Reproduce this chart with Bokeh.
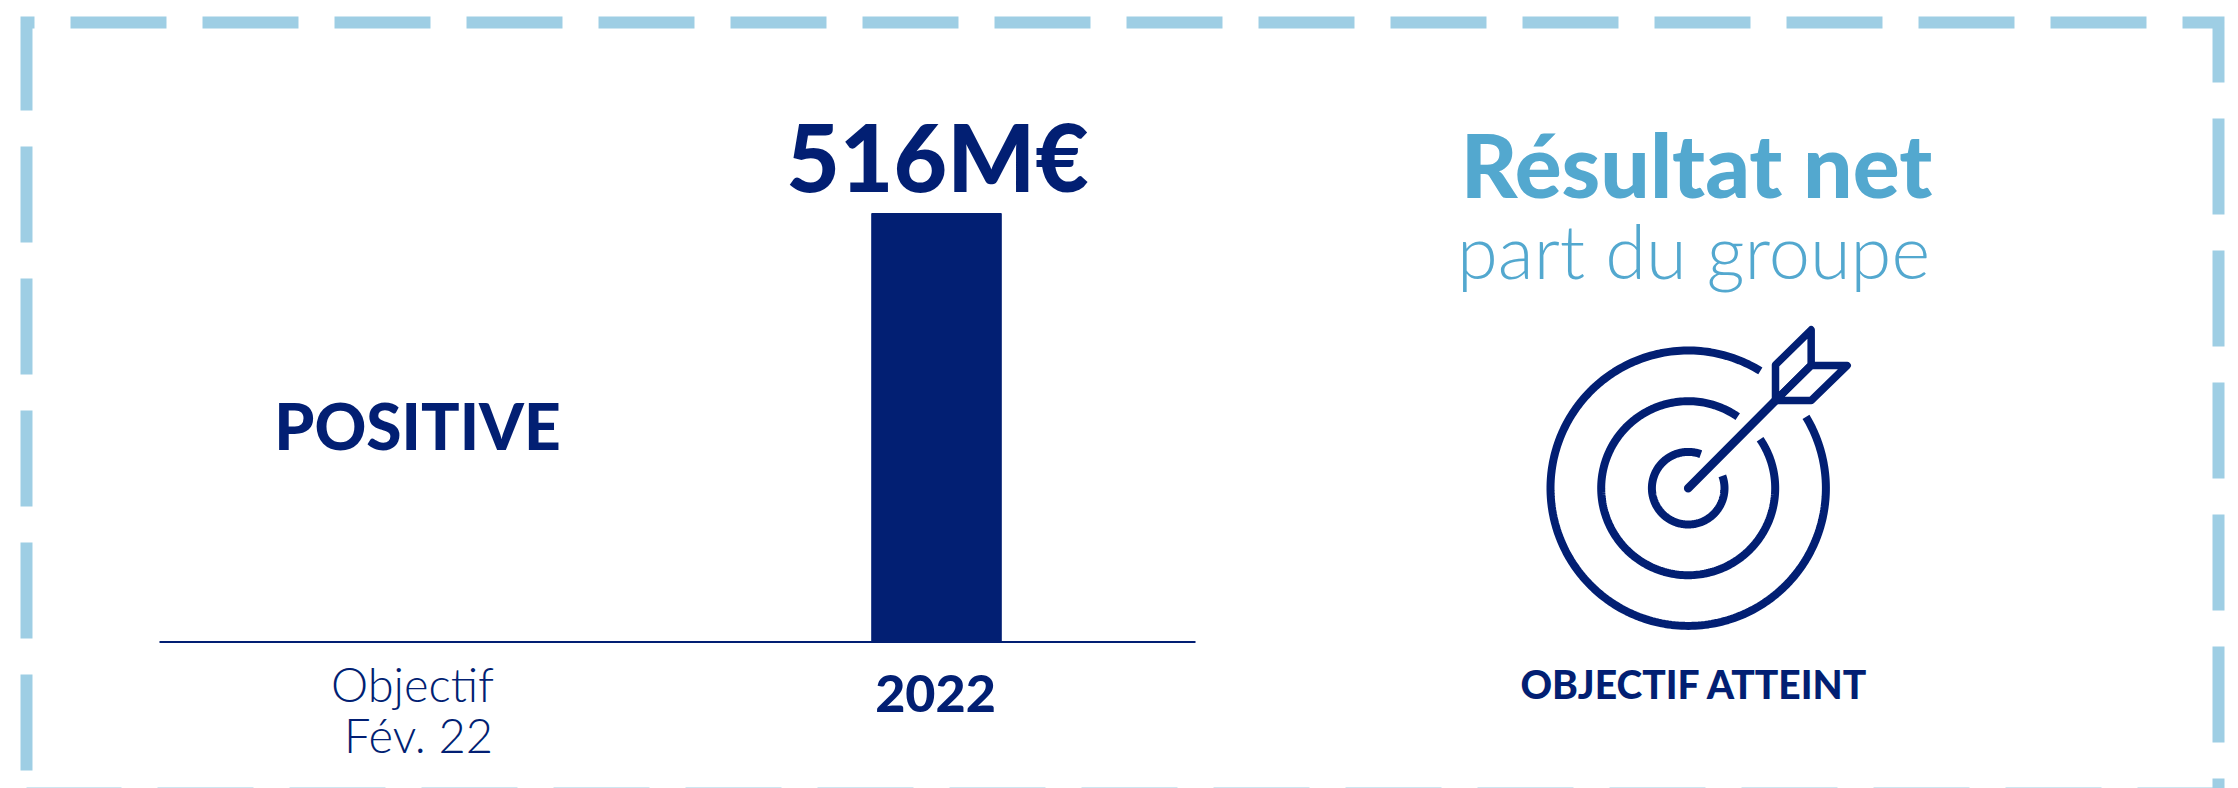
import numpy as np
from bokeh.plotting import figure
from bokeh.models import Range1d, ColumnDataSource
from bokeh.core.properties import value
from bokeh.embed import file_html
from bokeh.resources import INLINE

# ---- data -------------------------------------------------------------
category_positions = [0, 1]
category_first_line = ["Objectif", "2022"]
category_second_line = ["Fév. 22", ""]
bar_values = [None, 516]
bar_labels = ["POSITIVE", "516M€"]
title_main = "Résultat net"
title_sub = "part du groupe"
status_text = "OBJECTIF ATTEINT"

NAVY = "#021F73"
SKY = "#53A8CF"
DASH = "#9ECEE4"
BOLD = value("Lato Black")
LIGHT = value("Lato Light")

W, H = 2238, 788
PAGE_L, PAGE_T = 0, 0
BASE_Y, TOP_Y = 641.5, 213.0
X0, X1 = 418.0, 936.0
unit_v = 516 / (BASE_Y - TOP_Y)
unit_x = 1 / (X1 - X0)

p = figure(width=W, height=H, output_backend="svg", toolbar_location=None,
           x_range=Range1d(PAGE_L, PAGE_L + W),
           y_range=Range1d(PAGE_T + H, PAGE_T),
           min_border=0, outline_line_color=None, background_fill_color="white")
p.axis.visible = False
p.grid.visible = False
p.extra_x_ranges["cat"] = Range1d((PAGE_L - X0) * unit_x, (PAGE_L + W - X0) * unit_x)
p.extra_y_ranges["val"] = Range1d((BASE_Y - (PAGE_T + H)) * unit_v, (BASE_Y - PAGE_T) * unit_v)

# dashed frame
fx = [26, 26, 2218, 2218, 26]
fy = [770, 22, 22, 793, 793]
p.line(fx, fy, line_color=DASH, line_width=12, line_dash="96 36",
       line_join="miter", line_cap="butt")

# bar + baseline
bars = ColumnDataSource(dict(x=[c for c, v in zip(category_positions, bar_values) if v is not None],
                             top=[v for v in bar_values if v is not None]))
p.vbar(x="x", top="top", bottom=0, width=0.25, source=bars, color=NAVY,
       x_range_name="cat", y_range_name="val")
p.line([-0.5, 1.5], [0, 0], line_color=NAVY, line_width=2,
       x_range_name="cat", y_range_name="val")


def txt(x, y, t, size, color=NAVY, font=BOLD, align="center"):
    p.text(x=[x], y=[y - 0.375 * size], text=[t], text_font=font, text_font_size=f"{size}px",
           text_color=color, text_align=align, text_baseline="alphabetic")


# target icon (zoom-crop coordinates -> page px)
cx, cy = 1687.7, 487.7
for r, a0, a1 in [(137.7, 58.4, 31.2), (87.0, 55.3, 34.3), (36.3, 69.7, 19.9)]:
    th = np.radians(np.linspace(a0, a1 + 360, 240))
    p.line(cx + r * np.cos(th), cy - r * np.sin(th), line_color=NAVY, line_width=8, line_cap="butt")


def z(pts):
    return [1500 + a / 3 for a, _ in pts], [300 + b / 3 for _, b in pts]


for pts, w in [
    ([(563, 563), (825, 300)], 8.5),
    ([(825, 300), (825, 193), (932, 88), (932, 193), (825, 300)], 7.5),
    ([(825, 300), (932, 300), (1040, 195), (932, 195), (825, 300)], 7.5),
]:
    xs, ys = z(pts)
    p.line(xs, ys, line_color=NAVY, line_width=w, line_cap="round", line_join="round")

txt(417, 449, bar_labels[0], 64)
txt(412, 701, category_first_line[0], 47, font=LIGHT)
txt(418, 752, category_second_line[0], 47, font=LIGHT)
txt(935, 712, category_first_line[1], 52)
txt(1696, 197, title_main, 87.5, color=SKY)
txt(1693, 278, title_sub, 74, color=SKY, font=LIGHT)
txt(1694, 698, status_text, 39)
txt(937, 191, bar_labels[1], 92.5)

open("out.html", "w").write(file_html(p, INLINE))
